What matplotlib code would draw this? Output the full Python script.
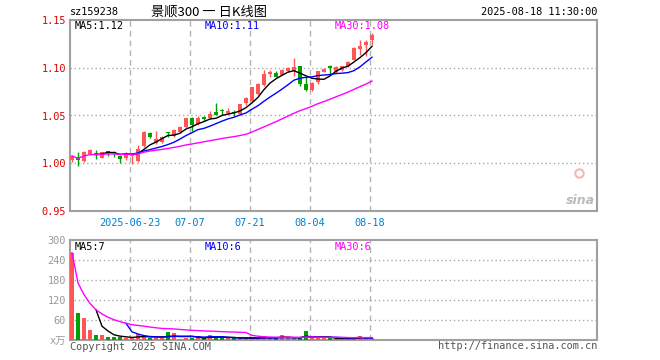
import numpy as np
import pandas as pd
import matplotlib
matplotlib.use("Agg")
import matplotlib.pyplot as plt

# trading days shown on the chart
dates = pd.bdate_range("2025-06-09", "2025-08-18")

opens = [1.003, 1.0066, 1.002, 1.0097, 1.0107, 1.0055, 1.0125, 1.012, 1.0079, 1.0055,
         1.008, 1.002, 1.018, 1.032, 1.021, 1.0222, 1.0326, 1.0287, 1.0329, 1.038,
         1.047, 1.041, 1.048, 1.0471, 1.0534, 1.056, 1.053, 1.0534, 1.0513, 1.0627,
         1.0648, 1.072, 1.0815, 1.093, 1.095, 1.0929, 1.0965, 1.0965, 1.1023, 1.0825,
         1.0765, 1.0846, 1.096, 1.1023, 1.096, 1.0981, 1.1015, 1.1085, 1.120, 1.124,
         1.1286]
closes = [1.0076, 1.003, 1.012, 1.014, 1.0086, 1.0115, 1.011, 1.0108, 1.0045, 1.0107,
          1.0097, 1.0149, 1.033, 1.028, 1.025, 1.0279, 1.0315, 1.035, 1.0378, 1.047,
          1.0398, 1.047, 1.0466, 1.0513, 1.0508, 1.0544, 1.0547, 1.0523, 1.0617, 1.068,
          1.0794, 1.0835, 1.093, 1.0955, 1.0908, 1.0975, 1.1002, 1.1005, 1.0825, 1.077,
          1.0845, 1.0965, 1.099, 1.1002, 1.1012, 1.1015, 1.1064, 1.121, 1.123, 1.1272,
          1.1345]
highs = [1.009, 1.012, 1.013, 1.015, 1.0135, 1.012, 1.013, 1.0125, 1.0085, 1.0115,
         1.0107, 1.019, 1.034, 1.033, 1.034, 1.029, 1.033, 1.036, 1.039, 1.0475,
         1.048, 1.049, 1.0492, 1.0545, 1.0627, 1.057, 1.0575, 1.0555, 1.062, 1.069,
         1.080, 1.0845, 1.0981, 1.0975, 1.097, 1.0985, 1.101, 1.1106, 1.1023, 1.091,
         1.085, 1.097, 1.1002, 1.1025, 1.102, 1.1023, 1.107, 1.1215, 1.1293, 1.1293,
         1.136]
lows = [1.001, 0.997, 1.001, 1.009, 1.004, 1.005, 1.0076, 1.0066, 1.0003, 1.003,
        0.999, 1.001, 1.017, 1.026, 1.020, 1.021, 1.0274, 1.028, 1.032, 1.037,
        1.034, 1.040, 1.0445, 1.046, 1.0502, 1.050, 1.0505, 1.049, 1.050, 1.0615,
        1.064, 1.0715, 1.081, 1.090, 1.090, 1.0925, 1.096, 1.091, 1.081, 1.0755,
        1.0755, 1.083, 1.0955, 1.0929, 1.095, 1.097, 1.101, 1.108, 1.1137, 1.112,
        1.124]
# volume in 万
volumes = [262, 81, 66, 30, 15, 15, 9, 9, 10, 5,
           5, 17, 15, 5, 5, 5, 23, 20, 3, 5,
           5, 11, 5, 15, 5, 7, 7, 5, 5, 5,
           5, 5, 13, 5, 5, 15, 5, 5, 5, 27,
           5, 5, 5, 5, 4, 4, 4, 5, 12, 6,
           6]

tick_dates = ["2025-06-23", "2025-07-07", "2025-07-21", "2025-08-04", "2025-08-18"]
tick_labels = ["2025-06-23", "07-07", "07-21", "08-04", "08-18"]
price_ticks = [0.95, 1.00, 1.05, 1.10, 1.15]
vol_ticks = [0, 60, 120, 180, 240, 300]
vol_tick_labels = ["x万", "60", "120", "180", "240", "300"]

RED = "#ff5555"
GREEN = "#00a000"
GRID = "#aaaaaa"
FRAME = "#a0a0a0"
MONO = ["DejaVu Sans Mono", "Noto Sans CJK SC"]
FS = 7.4

o = np.array(opens)
c = np.array(closes)
h = np.array(highs)
l = np.array(lows)
v = np.array(volumes)
x = np.arange(len(dates))
up = c >= o
colors = np.where(up, RED, GREEN)

close_s = pd.Series(c)
vol_s = pd.Series(v, dtype=float)
ma = {
    5: (close_s.rolling(5).mean(), vol_s.rolling(5).mean(), "black"),
    10: (close_s.rolling(10).mean(), vol_s.rolling(10).mean(), "#0000ff"),
    30: (close_s.rolling(30, min_periods=1).mean(), vol_s.rolling(30, min_periods=1).mean(), "#ff00ff"),
}
ma_text = {5: ("MA5:1.12", "MA5:7"), 10: ("MA10:1.11", "MA10:6"), 30: ("MA30:1.08", "MA30:6")}

W, H = 660, 360
fig = plt.figure(figsize=(W / 100, H / 100), dpi=100)


def px(xp, yp):
    return xp / W, 1 - yp / H


ax = fig.add_axes([70 / W, 1 - 211 / H, 527 / W, 191 / H])
axv = fig.add_axes([70 / W, 1 - 340 / H, 527 / W, 100 / H])

date_idx = [dates.get_loc(pd.Timestamp(d)) - 0.35 for d in tick_dates]

for a in (ax, axv):
    a.set_xlim(-0.33, 87.5)
    for s in a.spines.values():
        s.set_color(FRAME)
        s.set_linewidth(1.5)
    a.tick_params(length=0)
    for xi in date_idx:
        a.axvline(xi, color="#b4b4b4", lw=1, ls=(0, (4, 3)), zorder=0)

# candles
ax.vlines(x, l, h, colors=colors, lw=1, zorder=2)
body = np.maximum(np.abs(c - o), 0.0008)
ax.bar(x, body, bottom=np.minimum(o, c), width=0.72, color=colors, zorder=3)

for n, (mp, mv, col) in ma.items():
    ax.plot(x, mp, color=col, lw=1, zorder=4)
    axv.plot(x, mv, color=col, lw=1, zorder=4)

ax.set_ylim(0.95, 1.15)
ax.set_yticks(price_ticks)
ax.set_yticklabels([f"{t:.2f}" for t in price_ticks], color="#e00000", family=MONO, fontsize=FS)
for t in price_ticks[1:-1]:
    ax.axhline(t, color=GRID, lw=1, ls=(0, (1, 2)), zorder=0)
ax.set_xticks(date_idx)
ax.set_xticklabels(tick_labels, color="#0080d0", family=MONO, fontsize=FS)
ax.tick_params(axis="x", pad=5)
ax.tick_params(axis="y", pad=3)

# volume
axv.bar(x, v, width=0.78, color=colors, zorder=3)
axv.set_ylim(0, 300)
axv.set_yticks(vol_ticks)
axv.set_yticklabels(vol_tick_labels, color="#999999", family=MONO, fontsize=FS)
axv.tick_params(axis="y", pad=3)
axv.set_xticks([])
for t in vol_ticks[1:-1]:
    axv.axhline(t, color=GRID, lw=1, ls=(0, (1, 2)), zorder=0)

# text
fig.text(*px(70, 12), "sz159238", family=MONO, fontsize=FS, va="center", ha="left")
fig.text(*px(209, 12), "景顺300 一 日K线图", family=["Noto Sans CJK SC", "DejaVu Sans"],
         fontsize=9.5, va="center", ha="center")
fig.text(*px(597, 12), "2025-08-18 11:30:00", family=MONO, fontsize=FS, va="center", ha="right")

for xp, n in zip([75, 205, 335], [5, 10, 30]):
    col = ma[n][2]
    fig.text(*px(xp, 26), ma_text[n][0], family=MONO, fontsize=FS, color=col, va="center")
    fig.text(*px(xp, 247), ma_text[n][1], family=MONO, fontsize=FS, color=col, va="center")

fig.text(*px(70, 347), "Copyright 2025 SINA.COM", family=MONO, fontsize=FS, color="#555555",
         va="center", ha="left")
fig.text(*px(597, 346), "http://finance.sina.com.cn", family=MONO, fontsize=FS, color="#555555",
         va="center", ha="right")

# sina watermark
fig.text(*px(580, 200), "sina", fontsize=9, color="#bbbbbb", style="italic", weight="bold",
         ha="center", va="center")
ax.plot([0.965], [0.2], "o", transform=ax.transAxes, mfc="none", mec="#f5b5b5", ms=6, mew=1.5)

fig.savefig("out.png", dpi=100)
